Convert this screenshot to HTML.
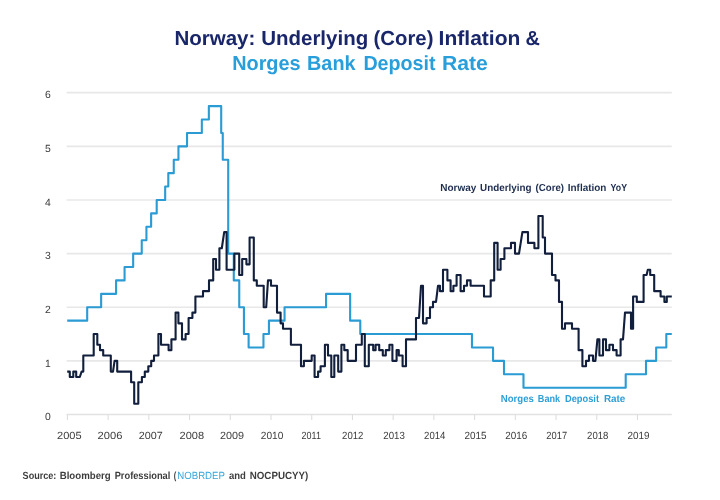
<!DOCTYPE html>
<html><head><meta charset="utf-8"><title>Norway: Underlying (Core) Inflation &amp; Norges Bank Deposit Rate</title>
<style>
html,body{margin:0;padding:0;background:#fff;}
svg{display:block;font-family:"Liberation Sans",sans-serif;text-rendering:geometricPrecision;}
.grid line{stroke:#e8e8e8;stroke-width:1.7;}
.axis line{stroke:#e2e2e2;stroke-width:1.5;}
.ticks line{stroke:#dedede;stroke-width:1.1;}
.xl text,.yl text{font-size:10.4px;fill:#3c3c3c;}
.t1 text{font-size:20.3px;font-weight:bold;fill:#19276a;}
.t2 text{font-size:20.3px;font-weight:bold;fill:#289edb;}
.lab1 text{font-size:10.2px;font-weight:bold;fill:#1d2c4e;}
.lab2 text{font-size:10.2px;font-weight:bold;fill:#2d9fd6;}
.src text{font-size:10.4px;font-weight:bold;fill:#3c3c3c;}
.src text.lnk{font-weight:normal;fill:#35a6dc;}
</style></head>
<body>
<svg width="720" height="500" viewBox="0 0 720 500">
<rect width="720" height="500" fill="#ffffff"/>
<g class="t1">
<text x="174.4" y="44.5" textLength="81.0" lengthAdjust="spacingAndGlyphs">Norway:</text>
<text x="261.2" y="44.5" textLength="107.0" lengthAdjust="spacingAndGlyphs">Underlying</text>
<text x="373.6" y="44.5" textLength="59.8" lengthAdjust="spacingAndGlyphs">(Core)</text>
<text x="438.6" y="44.5" textLength="81.8" lengthAdjust="spacingAndGlyphs">Inflation</text>
<text x="525.6" y="44.5" textLength="14.4" lengthAdjust="spacingAndGlyphs">&amp;</text>
</g>
<g class="t2">
<text x="232.2" y="69.8" textLength="68.4" lengthAdjust="spacingAndGlyphs">Norges</text>
<text x="307.0" y="69.8" textLength="48.6" lengthAdjust="spacingAndGlyphs">Bank</text>
<text x="363.4" y="69.8" textLength="72.2" lengthAdjust="spacingAndGlyphs">Deposit</text>
<text x="441.9" y="69.8" textLength="45.9" lengthAdjust="spacingAndGlyphs">Rate</text>
</g>
<g class="grid"><line x1="66.6" x2="671.8" y1="360.87" y2="360.87"/><line x1="66.6" x2="671.8" y1="307.24" y2="307.24"/><line x1="66.6" x2="671.8" y1="253.61" y2="253.61"/><line x1="66.6" x2="671.8" y1="199.98" y2="199.98"/><line x1="66.6" x2="671.8" y1="146.35" y2="146.35"/><line x1="66.6" x2="671.8" y1="92.72" y2="92.72"/></g>
<g class="axis"><line x1="66.6" x2="671.8" y1="414.5" y2="414.5"/></g><g class="ticks"><line x1="67.4" x2="67.4" y1="414.5" y2="420.0"/><line x1="108.12" x2="108.12" y1="414.5" y2="420.0"/><line x1="148.84" x2="148.84" y1="414.5" y2="420.0"/><line x1="189.56" x2="189.56" y1="414.5" y2="420.0"/><line x1="230.28" x2="230.28" y1="414.5" y2="420.0"/><line x1="271.0" x2="271.0" y1="414.5" y2="420.0"/><line x1="311.72" x2="311.72" y1="414.5" y2="420.0"/><line x1="352.44" x2="352.44" y1="414.5" y2="420.0"/><line x1="393.16" x2="393.16" y1="414.5" y2="420.0"/><line x1="433.88" x2="433.88" y1="414.5" y2="420.0"/><line x1="474.6" x2="474.6" y1="414.5" y2="420.0"/><line x1="515.32" x2="515.32" y1="414.5" y2="420.0"/><line x1="556.04" x2="556.04" y1="414.5" y2="420.0"/><line x1="596.76" x2="596.76" y1="414.5" y2="420.0"/><line x1="637.48" x2="637.48" y1="414.5" y2="420.0"/></g>
<g class="yl"><text x="50.8" y="420.2" text-anchor="end">0</text><text x="50.8" y="366.57" text-anchor="end">1</text><text x="50.8" y="312.94" text-anchor="end">2</text><text x="50.8" y="259.31" text-anchor="end">3</text><text x="50.8" y="205.67999999999998" text-anchor="end">4</text><text x="50.8" y="152.04999999999998" text-anchor="end">5</text><text x="50.8" y="98.42" text-anchor="end">6</text></g>
<g class="xl"><text x="57.1" y="439.0" textLength="24.55" lengthAdjust="spacingAndGlyphs">2005</text><text x="97.6" y="439.0" textLength="24.8" lengthAdjust="spacingAndGlyphs">2006</text><text x="138.85" y="439.0" textLength="24.05" lengthAdjust="spacingAndGlyphs">2007</text><text x="179.6" y="439.0" textLength="24.55" lengthAdjust="spacingAndGlyphs">2008</text><text x="220.1" y="439.0" textLength="24.05" lengthAdjust="spacingAndGlyphs">2009</text><text x="260.85" y="439.0" textLength="22.55" lengthAdjust="spacingAndGlyphs">2010</text><text x="301.6" y="439.0" textLength="19.3" lengthAdjust="spacingAndGlyphs">2011</text><text x="342.1" y="439.0" textLength="21.3" lengthAdjust="spacingAndGlyphs">2012</text><text x="383.35" y="439.0" textLength="21.55" lengthAdjust="spacingAndGlyphs">2013</text><text x="424.1" y="439.0" textLength="21.3" lengthAdjust="spacingAndGlyphs">2014</text><text x="464.6" y="439.0" textLength="22.05" lengthAdjust="spacingAndGlyphs">2015</text><text x="505.35" y="439.0" textLength="22.05" lengthAdjust="spacingAndGlyphs">2016</text><text x="546.35" y="439.0" textLength="20.8" lengthAdjust="spacingAndGlyphs">2017</text><text x="587.1" y="439.0" textLength="21.3" lengthAdjust="spacingAndGlyphs">2018</text><text x="627.6" y="439.0" textLength="22.05" lengthAdjust="spacingAndGlyphs">2019</text></g>
<path d="M67.2,320.65 L87.19,320.65 L87.19,307.24 L101.14,307.24 L101.14,293.83 L116.09,293.83 L116.09,280.42 L124.57,280.42 L124.57,267.02 L133.16,267.02 L133.16,253.61 L141.75,253.61 L141.75,240.2 L146.43,240.2 L146.43,226.79 L151.12,226.79 L151.12,213.39 L156.7,213.39 L156.7,199.98 L165.17,199.98 L165.17,186.57 L168.3,186.57 L168.3,173.16 L173.76,173.16 L173.76,159.76 L178.45,159.76 L178.45,146.35 L187.04,146.35 L187.04,132.94 L201.84,132.94 L201.84,119.53 L208.85,119.53 L208.85,106.13 L221.2,106.13 L221.2,132.94 L222.76,132.94 L222.76,159.76 L228.21,159.76 L228.21,253.61 L233.78,253.61 L233.78,280.42 L239.25,280.42 L239.25,307.24 L243.94,307.24 L243.94,334.06 L248.62,334.06 L248.62,347.46 L263.46,347.46 L263.46,334.06 L268.93,334.06 L268.93,320.65 L284.55,320.65 L284.55,307.24 L326.05,307.24 L326.05,293.83 L350.14,293.83 L350.14,320.65 L360.27,320.65 L360.27,334.06 L471.97,334.06 L471.97,347.46 L493.05,347.46 L493.05,360.87 L503.99,360.87 L503.99,374.28 L523.49,374.28 L523.49,387.69 L625.7,387.69 L625.7,374.28 L646.0,374.28 L646.0,360.87 L656.16,360.87 L656.16,347.46 L666.31,347.46 L666.31,334.06 L671.8,334.06" fill="none" stroke="#2a9bd3" stroke-width="2.1" stroke-linejoin="round"/>
<path d="M67.2,371.6 L69.8,371.6 L69.8,376.96 L73.3,376.96 L73.3,371.6 L76.2,371.6 L76.2,376.96 L79.8,376.96 L81.6,371.6 L83.3,371.6 L83.3,355.51 L93.7,355.51 L93.7,334.06 L97.3,334.06 L97.3,344.78 L100.0,344.78 L100.0,350.14 L103.2,350.14 L103.2,355.51 L110.8,355.51 L110.8,371.6 L113.0,371.6 L114.6,360.87 L117.2,360.87 L117.2,371.6 L131.1,371.6 L131.1,382.32 L134.2,382.32 L134.2,403.77 L138.3,403.77 L138.3,382.32 L141.9,382.32 L141.9,376.96 L144.8,376.96 L144.8,371.6 L148.3,371.6 L148.3,366.23 L151.2,366.23 L151.2,360.87 L154.0,360.87 L154.0,355.51 L158.4,355.51 L158.4,334.06 L161.0,334.06 L161.0,344.78 L168.6,344.78 L168.6,350.14 L171.4,350.14 L171.4,339.42 L175.6,339.42 L175.6,312.6 L178.4,312.6 L178.4,323.33 L182.0,323.33 L182.0,339.42 L185.6,339.42 L185.6,334.06 L188.6,334.06 L188.6,317.97 L192.4,317.97 L192.4,312.6 L195.4,312.6 L195.4,296.51 L203.0,296.51 L203.0,291.15 L209.0,291.15 L209.0,280.42 L213.2,280.42 L213.2,258.97 L216.0,258.97 L216.0,269.7 L219.4,269.7 L219.4,248.25 L221.8,248.25 L224.2,232.16 L226.6,232.16 L226.6,269.7 L234.4,269.7 L234.4,253.61 L239.2,253.61 L239.2,275.06 L242.2,275.06 L242.2,258.97 L246.4,258.97 L246.4,264.34 L249.6,264.34 L249.6,237.52 L253.8,237.52 L253.8,280.42 L256.8,280.42 L256.8,285.79 L263.7,285.79 L263.7,307.24 L266.2,307.24 L268.0,280.42 L271.0,280.42 L271.0,285.79 L277.0,285.79 L277.0,312.6 L280.6,312.6 L280.6,323.33 L283.0,323.33 L283.0,328.69 L290.9,328.69 L290.9,344.78 L301.0,344.78 L301.0,366.23 L303.9,366.23 L303.9,360.87 L311.7,360.87 L311.7,355.51 L314.6,355.51 L314.6,376.96 L318.1,376.96 L318.1,371.6 L320.6,371.6 L320.6,366.23 L324.9,366.23 L324.9,344.78 L328.0,344.78 L328.0,355.51 L331.3,355.51 L331.3,376.96 L334.3,376.96 L334.3,355.51 L338.2,355.51 L338.2,371.6 L341.4,371.6 L341.4,344.78 L344.3,344.78 L344.3,350.14 L347.7,350.14 L347.7,360.87 L356.0,360.87 L356.0,344.78 L361.8,344.78 L361.8,334.06 L364.8,334.06 L364.8,366.23 L368.8,366.23 L368.8,344.78 L373.2,344.78 L373.2,350.14 L375.6,350.14 L375.6,344.78 L379.2,344.78 L379.2,350.14 L382.8,350.14 L382.8,355.51 L385.8,355.51 L385.8,350.14 L389.4,350.14 L389.4,344.78 L392.4,344.78 L392.4,360.87 L396.6,360.87 L396.6,350.14 L398.8,350.14 L398.8,355.51 L402.6,355.51 L402.6,366.23 L406.0,366.23 L406.0,339.42 L416.0,339.42 L416.0,317.97 L419.0,317.97 L421.0,285.79 L423.0,285.79 L423.0,323.33 L426.6,323.33 L426.6,317.97 L430.0,317.97 L430.0,307.24 L433.0,307.24 L433.0,301.88 L436.0,301.88 L438.0,285.79 L440.0,285.79 L440.0,291.15 L443.0,291.15 L443.0,269.7 L447.4,269.7 L447.4,280.42 L450.6,280.42 L450.6,291.15 L453.4,291.15 L453.4,285.79 L456.6,285.79 L456.6,275.06 L460.6,275.06 L460.6,291.15 L464.0,291.15 L464.0,285.79 L467.0,285.79 L467.0,280.42 L470.6,280.42 L470.6,285.79 L484.0,285.79 L484.0,296.51 L490.7,296.51 L490.7,280.42 L494.2,280.42 L494.2,242.88 L497.6,242.88 L497.6,269.7 L500.6,269.7 L500.6,258.97 L504.4,258.97 L504.4,248.25 L511.0,248.25 L511.0,242.88 L515.0,242.88 L515.0,253.61 L519.0,253.61 L522.4,232.16 L528.0,232.16 L528.0,242.88 L534.4,242.88 L534.4,248.25 L538.4,248.25 L538.4,216.07 L542.7,216.07 L542.7,237.52 L545.0,237.52 L545.0,253.61 L552.0,253.61 L552.0,275.06 L555.5,275.06 L555.5,280.42 L559.0,280.42 L559.0,301.88 L562.0,301.88 L562.0,328.69 L565.0,328.69 L565.0,323.33 L572.0,323.33 L572.0,328.69 L578.6,328.69 L578.6,350.14 L582.4,350.14 L582.4,366.23 L586.0,366.23 L586.0,360.87 L589.0,360.87 L589.0,355.51 L593.0,355.51 L593.0,360.87 L595.4,360.87 L597.4,339.42 L599.4,339.42 L599.4,355.51 L603.0,355.51 L603.0,339.42 L606.0,339.42 L606.0,350.14 L609.4,350.14 L609.4,344.78 L613.0,344.78 L613.0,350.14 L616.6,350.14 L616.6,355.51 L620.6,355.51 L620.6,339.42 L623.0,339.42 L625.0,312.6 L631.0,312.6 L631.0,328.69 L633.1,328.69 L633.1,296.51 L636.8,296.51 L636.8,301.88 L643.6,301.88 L643.6,275.06 L646.6,275.06 L647.8,269.7 L650.2,269.7 L650.2,275.06 L654.2,275.06 L654.2,291.15 L660.6,291.15 L660.6,296.51 L664.4,296.51 L664.4,301.88 L666.8,301.88 L666.8,296.51 L671.8,296.51" fill="none" stroke="#111f3d" stroke-width="2.1" stroke-linejoin="round"/>
<g class="lab1">
<text x="440.3" y="191.2" textLength="36.1" lengthAdjust="spacingAndGlyphs">Norway</text>
<text x="480.1" y="191.2" textLength="51.4" lengthAdjust="spacingAndGlyphs">Underlying</text>
<text x="535.6" y="191.2" textLength="28.4" lengthAdjust="spacingAndGlyphs">(Core)</text>
<text x="567.8" y="191.2" textLength="38.6" lengthAdjust="spacingAndGlyphs">Inflation</text>
<text x="610.6" y="191.2" textLength="16.4" lengthAdjust="spacingAndGlyphs">YoY</text>
</g>
<g class="lab2">
<text x="500.8" y="402.2" textLength="33.1" lengthAdjust="spacingAndGlyphs">Norges</text>
<text x="537.8" y="402.2" textLength="22.3" lengthAdjust="spacingAndGlyphs">Bank</text>
<text x="565.0" y="402.2" textLength="34.0" lengthAdjust="spacingAndGlyphs">Deposit</text>
<text x="603.9" y="402.2" textLength="21.4" lengthAdjust="spacingAndGlyphs">Rate</text>
</g>
<g class="src">
<text x="22.6" y="478.8" textLength="33.8" lengthAdjust="spacingAndGlyphs">Source:</text>
<text x="59.7" y="478.8" textLength="51.0" lengthAdjust="spacingAndGlyphs">Bloomberg</text>
<text x="114.7" y="478.8" textLength="55.6" lengthAdjust="spacingAndGlyphs">Professional</text>
<text x="173.8" y="478.8" textLength="2.5" lengthAdjust="spacingAndGlyphs">(</text>
<text class="lnk" x="177.2" y="478.8" textLength="47.8" lengthAdjust="spacingAndGlyphs">NOBRDEP</text>
<text x="228.9" y="478.8" textLength="16.9" lengthAdjust="spacingAndGlyphs">and</text>
<text x="249.7" y="478.8" textLength="58.6" lengthAdjust="spacingAndGlyphs">NOCPUCYY)</text>
</g>
</svg>
</body></html>
